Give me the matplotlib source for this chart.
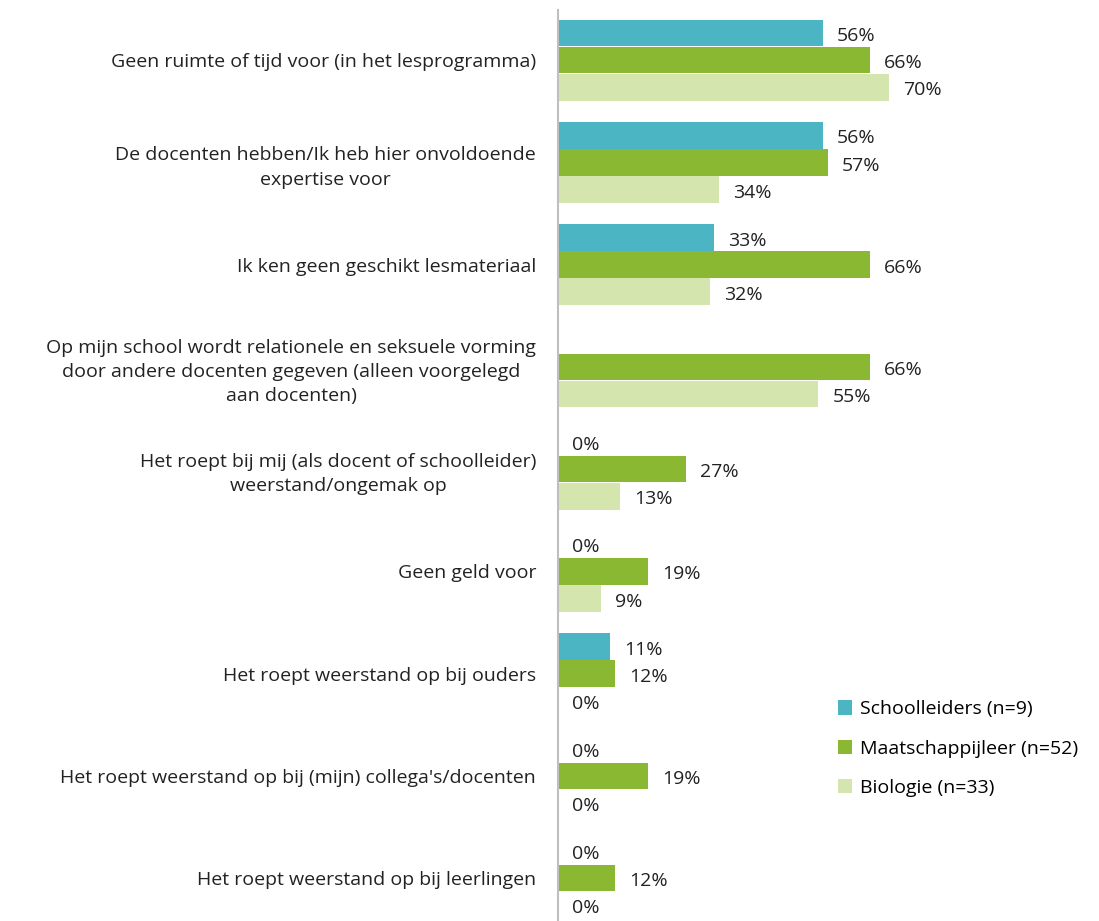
import numpy as np
import matplotlib.pyplot as plt

categories = [
    "Geen ruimte of tijd voor (in het lesprogramma)",
    "De docenten hebben/Ik heb hier onvoldoende\nexpertise voor",
    "Ik ken geen geschikt lesmateriaal",
    "Op mijn school wordt relationele en seksuele vorming\ndoor andere docenten gegeven (alleen voorgelegd\naan docenten)",
    "Het roept bij mij (als docent of schoolleider)\nweerstand/ongemak op",
    "Geen geld voor",
    "Het roept weerstand op bij ouders",
    "Het roept weerstand op bij (mijn) collega's/docenten",
    "Het roept weerstand op bij leerlingen",
]
schoolleiders = [56, 56, 33, None, 0, 0, 11, 0, 0]
maatschappijleer = [66, 57, 66, 66, 27, 19, 12, 19, 12]
biologie = [70, 34, 32, 55, 13, 9, 0, 0, 0]

series = [
    ("Schoolleiders (n=9)", schoolleiders, "#4BB5C4"),
    ("Maatschappijleer (n=52)", maatschappijleer, "#8AB833"),
    ("Biologie (n=33)", biologie, "#D4E6AD"),
]

plt.rcParams['font.family'] = ['Open Sans', 'DejaVu Sans']
fs = 14

fig = plt.figure(figsize=(10.99, 9.21), dpi=100)
ax = fig.add_axes([0.508, 0.0, 0.43, 0.989])

y = np.arange(len(categories))
h = 0.265
for i, (name, vals, col) in enumerate(series):
    pos = y + (i - 1) * h
    v = np.array([np.nan if a is None else a for a in vals], dtype=float)
    ax.barh(pos, np.nan_to_num(v), height=h * 0.98, color=col, label=name)
    for p, a in zip(pos, vals):
        if a is None:
            continue
        ax.text(a + 3.0, p + 0.03, f"{a}%", va='center', ha='left', fontsize=fs, color='#222222')

ax.set_yticks(y)
ax.set_yticklabels(categories, fontsize=fs, color='#222222', multialignment='center', linespacing=1.45)
ax.tick_params(axis='y', length=0, pad=16)
ax.set_xticks([])
ax.set_xlim(0, 100)
ax.set_ylim(8.42, -0.49)
for s in ['top', 'right', 'bottom']:
    ax.spines[s].set_visible(False)
ax.spines['left'].set_color('#BFBFBF')
ax.spines['left'].set_linewidth(1.5)

ax.legend(loc='upper left', bbox_to_anchor=(0.755, 0.248), bbox_transform=fig.transFigure,
          frameon=False, fontsize=fs, handlelength=0.75, handleheight=0.75,
          labelspacing=1.1, handletextpad=0.4, borderaxespad=0)

fig.savefig('out.png', dpi=100)
